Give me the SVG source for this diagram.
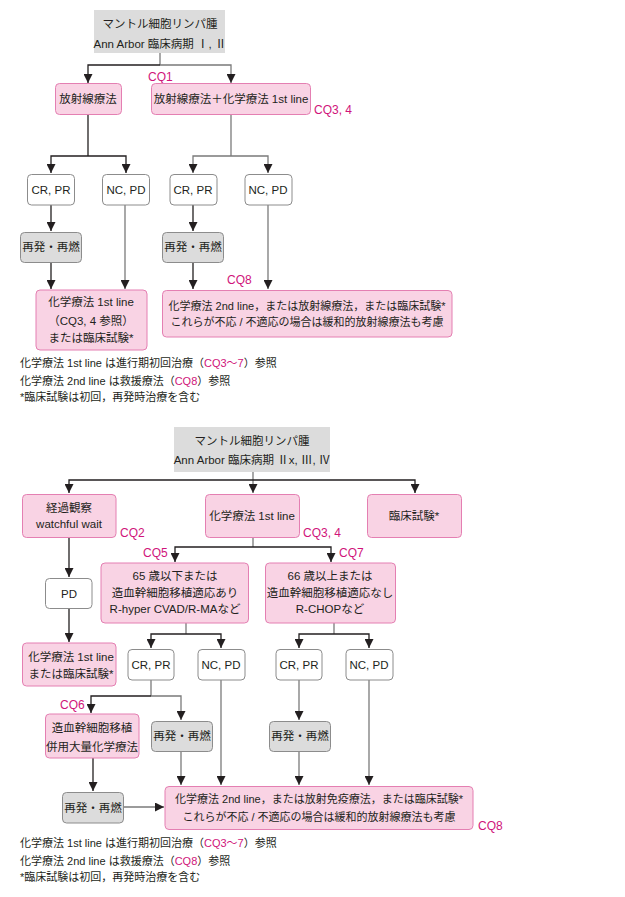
<svg xmlns="http://www.w3.org/2000/svg" width="625" height="897" viewBox="0 0 625 897">
<defs>
<marker id="ah" markerUnits="userSpaceOnUse" markerWidth="9" markerHeight="9" refX="9" refY="4.5" orient="auto">
<path d="M0,0 L9,4.5 L0,9 z" fill="#231f20"/>
</marker>
<style>
text{font-family:"Liberation Sans","Noto Sans CJK JP",sans-serif;font-size:11.5px;fill:#231f20;text-anchor:middle}
.l{text-anchor:start;font-size:11px}
.s{font-size:11px}
.cq{fill:#d0147a;font-size:12px;text-anchor:start}
.m{fill:#d0147a}
.pk{fill:#f9d3e4;stroke:#e47fb2;stroke-width:1}
.gy{fill:#dcdcdc;stroke:#8c8c8c;stroke-width:1}
.hd{fill:#dcdcdc;stroke:none}
.wh{fill:#fff;stroke:#8c8c8c;stroke-width:1}
.c{fill:none;stroke-width:1.3}
.d{stroke:#231f20}
.g{stroke:#7a7a7a}
.a{marker-end:url(#ah)}
</style>
</defs>
<rect width="625" height="897" fill="#fff"/>

<g id="connectors">
<path class="c g" d="M160,53 V65"/>
<path class="c d a" d="M160,65 H88 V83"/>
<path class="c g a" d="M160,65 H231 V83"/>
<path class="c d" d="M88,114 V156"/>
<path class="c d a" d="M88,156 H51 V173"/>
<path class="c d a" d="M88,156 H126 V173"/>
<path class="c g" d="M231,114 V156"/>
<path class="c g a" d="M231,156 H193 V173"/>
<path class="c g a" d="M231,156 H268 V173"/>
<path class="c d a" d="M51,205 V231"/>
<path class="c g a" d="M125,205 V289"/>
<path class="c d a" d="M51,262 V289"/>
<path class="c d a" d="M193,205 V231"/>
<path class="c g a" d="M268,205 V289"/>
<path class="c d a" d="M193,262 V289"/>

<path class="c g" d="M253,472 V480"/>
<path class="c g a" d="M253,480 V493"/>
<path class="c d a" d="M253,480 H69 V493"/>
<path class="c d a" d="M253,480 H415 V493"/>
<path class="c d a" d="M69,537 V577"/>
<path class="c d a" d="M69,608 V642"/>
<path class="c g" d="M253,537 V547"/>
<path class="c d a" d="M253,547 H175 V562"/>
<path class="c d a" d="M253,547 H331 V562"/>
<path class="c g" d="M186,623 V634"/>
<path class="c d a" d="M186,634 H151 V648"/>
<path class="c d a" d="M186,634 H221 V648"/>
<path class="c g" d="M334,623 V634"/>
<path class="c d a" d="M334,634 H299 V648"/>
<path class="c d a" d="M334,634 H369 V648"/>
<path class="c g" d="M151,680 V696"/>
<path class="c d a" d="M151,696 H91 V713"/>
<path class="c g a" d="M151,696 H181 V720"/>
<path class="c g a" d="M221,680 V785"/>
<path class="c g a" d="M299,680 V720"/>
<path class="c g a" d="M369,680 V785"/>
<path class="c g a" d="M181,751 V785"/>
<path class="c g a" d="M299,751 V785"/>
<path class="c d a" d="M93,758 V791"/>
<path class="c g a" d="M123,807 H164"/>
</g>

<!-- top section -->
<g id="header1">
<rect class="hd" x="94" y="10" width="131" height="43"/>
<text x="160" y="28">マントル細胞リンパ腫</text>
<text x="160" y="48">Ann Arbor 臨床病期 Ⅰ, Ⅱ</text>
</g>
<text class="cq" x="148" y="81">CQ1</text>
<g id="rt">
<rect class="pk" x="55.5" y="83.5" width="66" height="31" rx="4"/>
<text x="88" y="103">放射線療法</text>
</g>
<g id="rtchemo">
<rect class="pk" x="151.5" y="83.5" width="159" height="31" rx="4"/>
<text x="231" y="103">放射線療法＋化学療法 1st line</text>
</g>
<text class="cq" x="314" y="114">CQ3, 4</text>
<g id="crpr1">
<rect class="wh" x="27.5" y="174.5" width="47" height="30.5" rx="4"/>
<text x="51" y="194">CR, PR</text>
</g>
<g id="ncpd1">
<rect class="wh" x="102.5" y="174.5" width="47" height="30.5" rx="4"/>
<text x="126" y="194">NC, PD</text>
</g>
<g id="crpr2">
<rect class="wh" x="170" y="174.5" width="47" height="30.5" rx="4"/>
<text x="193" y="194">CR, PR</text>
</g>
<g id="ncpd2">
<rect class="wh" x="245" y="174.5" width="47" height="30.5" rx="4"/>
<text x="268" y="194">NC, PD</text>
</g>
<g id="relapse1">
<rect class="gy" x="20.5" y="232.5" width="61" height="30" rx="4"/>
<text x="51" y="251">再発・再燃</text>
</g>
<g id="relapse2">
<rect class="gy" x="162.5" y="232.5" width="61" height="30" rx="4"/>
<text x="193" y="251">再発・再燃</text>
</g>
<g id="chemo1st">
<rect class="pk" x="36" y="290" width="111" height="60" rx="4"/>
<text x="91" y="306">化学療法 1st line</text>
<text x="91" y="325">（CQ3, 4 参照）</text>
<text x="91" y="342">または臨床試験*</text>
</g>
<text class="cq" x="227" y="284">CQ8</text>
<g id="chemo2nd1">
<rect class="pk" x="162.5" y="290.5" width="289.5" height="46.5" rx="4"/>
<text class="s" x="307" y="310">化学療法 2nd line，または放射線療法，または臨床試験*</text>
<text class="s" x="307" y="326">これらが不応 / 不適応の場合は緩和的放射線療法も考慮</text>
</g>
<g id="notes1">
<text class="l" x="20" y="367">化学療法 1st line は進行期初回治療（<tspan class="m">CQ3〜7</tspan>）参照</text>
<text class="l" x="20" y="385">化学療法 2nd line は救援療法（<tspan class="m">CQ8</tspan>）参照</text>
<text class="l" x="20" y="401">*臨床試験は初回，再発時治療を含む</text>
</g>

<!-- bottom section -->
<g id="header2">
<rect class="hd" x="174" y="427" width="156" height="45"/>
<text x="252" y="445">マントル細胞リンパ腫</text>
<text x="252" y="464">Ann Arbor 臨床病期 Ⅱx, Ⅲ, Ⅳ</text>
</g>
<g id="watch">
<rect class="pk" x="22.5" y="494.5" width="93.5" height="43" rx="4"/>
<text x="69" y="512">経過観察</text>
<text x="69" y="528">watchful wait</text>
</g>
<text class="cq" x="120" y="537">CQ2</text>
<g id="chemo1st2">
<rect class="pk" x="205.5" y="494.5" width="94" height="43" rx="4"/>
<text x="252" y="520">化学療法 1st line</text>
</g>
<text class="cq" x="303" y="537">CQ3, 4</text>
<g id="trial">
<rect class="pk" x="367.5" y="494.5" width="94" height="43" rx="4"/>
<text x="414" y="520">臨床試験*</text>
</g>
<text class="cq" x="143" y="557">CQ5</text>
<text class="cq" x="339" y="557">CQ7</text>
<g id="young">
<rect class="pk" x="101" y="563" width="147.5" height="60" rx="4"/>
<text x="175" y="580">65 歳以下または</text>
<text x="175" y="597">造血幹細胞移植適応あり</text>
<text x="175" y="613">R-hyper CVAD/R-MAなど</text>
</g>
<g id="old">
<rect class="pk" x="265.5" y="563" width="130" height="60" rx="4"/>
<text x="330" y="580">66 歳以上または</text>
<text x="330" y="597">造血幹細胞移植適応なし</text>
<text x="330" y="613">R-CHOPなど</text>
</g>
<g id="pd">
<rect class="wh" x="45.5" y="578.5" width="46.5" height="30" rx="4"/>
<text x="69" y="598">PD</text>
</g>
<g id="chemo1st3">
<rect class="pk" x="22.5" y="643" width="93.5" height="43" rx="4"/>
<text x="71" y="661">化学療法 1st line</text>
<text x="71" y="678">または臨床試験*</text>
</g>
<g id="crpr3">
<rect class="wh" x="128" y="649.5" width="46" height="30.5" rx="4"/>
<text x="151" y="669">CR, PR</text>
</g>
<g id="ncpd3">
<rect class="wh" x="198" y="649.5" width="47" height="30.5" rx="4"/>
<text x="221" y="669">NC, PD</text>
</g>
<g id="crpr4">
<rect class="wh" x="276" y="649.5" width="46" height="30.5" rx="4"/>
<text x="299" y="669">CR, PR</text>
</g>
<g id="ncpd4">
<rect class="wh" x="346" y="649.5" width="47" height="30.5" rx="4"/>
<text x="369" y="669">NC, PD</text>
</g>
<text class="cq" x="60" y="709">CQ6</text>
<g id="sct">
<rect class="pk" x="45.5" y="714" width="93.5" height="44" rx="4"/>
<text x="92" y="732">造血幹細胞移植</text>
<text x="92" y="751">併用大量化学療法</text>
</g>
<g id="relapse3">
<rect class="gy" x="151.5" y="721.5" width="61" height="30" rx="4"/>
<text x="182" y="740">再発・再燃</text>
</g>
<g id="relapse4">
<rect class="gy" x="269.5" y="721.5" width="61" height="30" rx="4"/>
<text x="300" y="740">再発・再燃</text>
</g>
<g id="relapse5">
<rect class="gy" x="62.5" y="792.5" width="61" height="30.5" rx="4"/>
<text x="93" y="812">再発・再燃</text>
</g>
<g id="chemo2nd2">
<rect class="pk" x="165" y="786.5" width="308" height="43" rx="4"/>
<text class="s" x="319" y="803">化学療法 2nd line，または放射免疫療法，または臨床試験*</text>
<text class="s" x="319" y="821">これらが不応 / 不適応の場合は緩和的放射線療法も考慮</text>
</g>
<text class="cq" x="478" y="830">CQ8</text>
<g id="notes2">
<text class="l" x="20" y="847">化学療法 1st line は進行期初回治療（<tspan class="m">CQ3〜7</tspan>）参照</text>
<text class="l" x="20" y="865">化学療法 2nd line は救援療法（<tspan class="m">CQ8</tspan>）参照</text>
<text class="l" x="20" y="881">*臨床試験は初回，再発時治療を含む</text>
</g>
</svg>
